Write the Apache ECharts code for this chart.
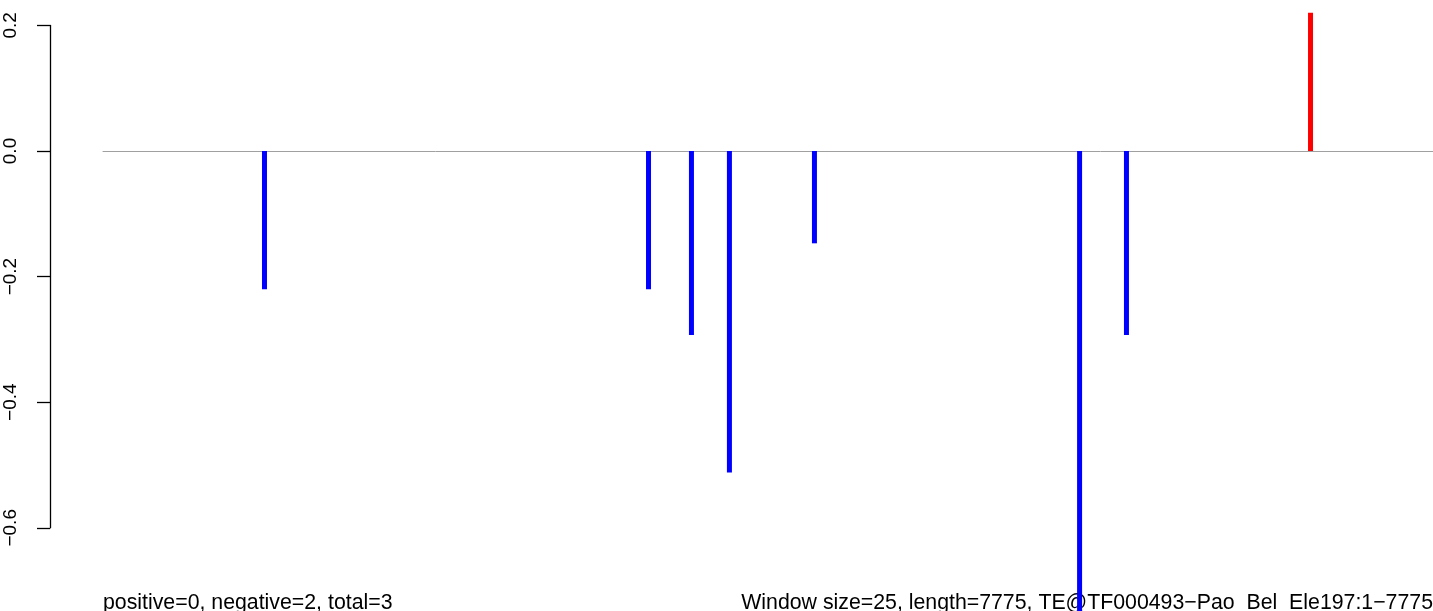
<!DOCTYPE html>
<html>
<head>
<meta charset="utf-8">
<script src="https://cdn.jsdelivr.net/npm/echarts@6/dist/echarts.min.js"></script>
<style>
html,body{margin:0;padding:0;background:#fff;}
#chart{width:1433px;height:611px;}
</style>
</head>
<body>
<div id="chart"></div>
<script>
// ---- data ----
const positions = [944, 3189, 3440, 3662, 4159, 5709, 5983, 7059];
const scores = [-0.22, -0.22, -0.293, -0.512, -0.147, -0.74, -0.293, 0.22];
const yTickValues = [-0.6, -0.4, -0.2, 0.0, 0.2];
const seqLength = 7775;
const leftNote = "positive=0, negative=2, total=3";
const rightNote = "Window size=25, length=7775, TE@TF000493\u2212Pao_Bel_Ele197:1\u22127775";

// ---- layout ----
const H = 611;
const axisTopPx = 25.4, axisBottomPx = 527.8;
const pxPerUnit = (axisBottomPx - axisTopPx) / (yTickValues[yTickValues.length-1] - yTickValues[0]);
const yMaxFull = yTickValues[yTickValues.length-1] + axisTopPx / pxPerUnit;
const yMinFull = yTickValues[0] - (H - axisBottomPx) / pxPerUnit;
const FONT = '"Liberation Sans", Arial, Helvetica, sans-serif';

const chart = echarts.init(document.getElementById('chart'), null, {renderer: 'canvas'});
const fmt = v => {
  const s = Math.abs(v).toFixed(1);
  return (v < -1e-9 ? '\u2212' : '') + s;
};

chart.setOption({
  animation: false,
  backgroundColor: '#ffffff',
  grid: [
    {left: 50, width: 1, top: axisTopPx, bottom: H - axisBottomPx, containLabel: false},
    {left: 103, right: 0, top: 0, bottom: 0, containLabel: false}
  ],
  xAxis: [
    {gridIndex: 0, type: 'value', show: false},
    {gridIndex: 1, type: 'value', min: 0, max: seqLength,
     axisLine: {show: true, onZero: true, lineStyle: {color: '#a0a0a0', width: 1}},
     axisTick: {show: false}, axisLabel: {show: false}, splitLine: {show: false}}
  ],
  yAxis: [
    {gridIndex: 0, type: 'value', min: yTickValues[0], max: yTickValues[yTickValues.length-1], interval: 0.2,
     axisLine: {show: true, lineStyle: {color: '#000', width: 1.3}},
     axisTick: {show: true, inside: false, length: 13, lineStyle: {color: '#000', width: 1.3}},
     axisLabel: {show: true, rotate: 90, margin: 30, color: '#000', fontSize: 19, fontFamily: FONT, formatter: fmt},
     splitLine: {show: false}},
    {gridIndex: 1, type: 'value', min: yMinFull, max: yMaxFull, show: false, splitLine: {show: false}}
  ],
  series: [{
    type: 'bar',
    xAxisIndex: 1, yAxisIndex: 1,
    barWidth: 5,
    clip: true,
    data: positions.map((p, i) => [p, scores[i]]),
    itemStyle: {color: p => p.value[1] >= 0 ? '#ff0000' : '#0000ff'}
  }],
  graphic: [
    {type: 'text', z: 0, x: 103, y: 614,
     style: {text: leftNote, font: '21.3px ' + FONT, fill: '#000', align: 'left', verticalAlign: 'bottom'}},
    {type: 'text', z: 0, x: 1433, y: 614,
     style: {text: rightNote, font: '21.3px ' + FONT, fill: '#000', align: 'right', verticalAlign: 'bottom'}}
  ]
});
</script>
</body>
</html>
